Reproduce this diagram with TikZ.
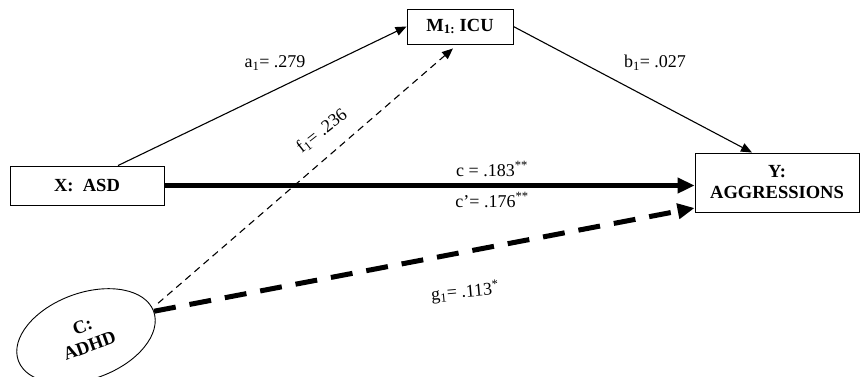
\documentclass[tikz,border=0pt]{standalone}
\usepackage{fontspec}
\setmainfont{Liberation Serif}
\usetikzlibrary{arrows.meta,shapes.geometric}
\tikzset{
    boxnode/.style={draw,line width=0.9pt,inner sep=0pt,font=\fontsize{18.5}{21}\selectfont\bfseries,align=center},
    ovalnode/.style={draw,ellipse,line width=0.9pt,inner sep=0pt,font=\fontsize{18.5}{21}\selectfont\bfseries,align=center},
    lbl/.style={font=\fontsize{18}{21}\selectfont,inner sep=0pt},
    thinarrow/.style={line width=1.1pt,-{Triangle[length=11pt,width=9pt]}},
    thickarrow/.style={line width=5pt,-{Triangle[length=17pt,width=15pt]}},
}
\begin{document}
\begin{tikzpicture}[x=1pt,y=-1pt]
        % Define dimensions
        \def\picwidth{861}
        \def\picheight{376}
        \useasboundingbox (0,0) rectangle (\picwidth,\picheight);
        % Variables
        \node[boxnode,minimum width=154pt,minimum height=39pt] (X) at (87,185.5) {X:\ \ ASD};
        \node[boxnode,minimum width=106pt,minimum height=35pt] (M) at (460,26.5) {M\textsubscript{1:} ICU};
        \node[boxnode,minimum width=164pt,minimum height=59pt] (Y) at (777,182.5) {Y:\\AGGRESSIONS};
        \node[ovalnode,rotate=20,minimum width=144pt,minimum height=86pt] (C) at (86,336) {C:\\ADHD};
        % Paths
        \draw[thinarrow] ([xshift=31pt]X.north) -- (M.west);
        \draw[thinarrow] (M.east) -- ([xshift=-25pt]Y.north);
        \draw[thickarrow] (X.east) -- (X.east -| Y.west);
        \draw[thinarrow,dash pattern=on 7pt off 5pt] ([shift={(4pt,8pt)}]C.east) -- ([shift={(-7pt,-4pt)}]M.south);
        \draw[thickarrow,dash pattern=on 22pt off 14pt] (C.east) -- ([yshift=-25.5pt]Y.west);
        % Coefficients
        \node[lbl] (la) at (275,63) {a\textsubscript{1}= .279};
        \node[lbl] (lb) at (655,63) {b\textsubscript{1}= .027};
        \node[lbl,rotate=38] (lf) at (322,131) {f\textsubscript{1}= .236};
        \node[lbl] (lc) at (492,169) {c = .183\textsuperscript{**}};
        \node[lbl] (lcp) at (492,200) {c’= .176\textsuperscript{**}};
        \node[lbl,rotate=5] (lg) at (465,292) {g\textsubscript{1}= .113\textsuperscript{*}};
    \end{tikzpicture}
\end{document}
